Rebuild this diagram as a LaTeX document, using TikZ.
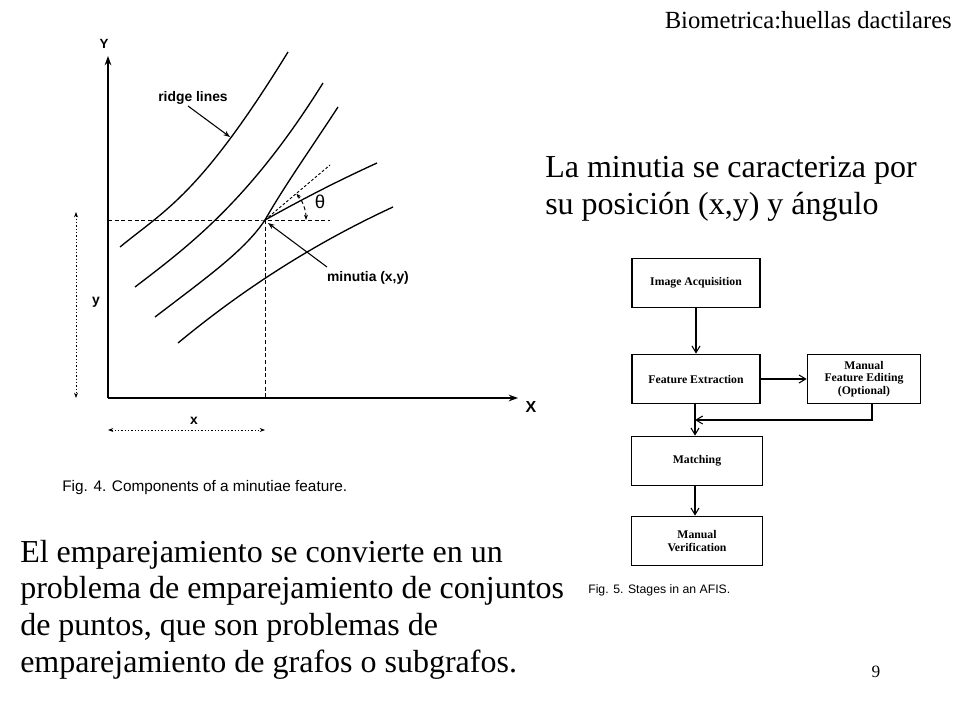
\documentclass[tikz,border=0pt]{standalone}
\usepackage{fontspec}
\setmainfont{Liberation Serif}
\newfontfamily\lsans{Liberation Sans}
\usetikzlibrary{arrows.meta}
\begin{document}
\begin{tikzpicture}[x=0.75pt,y=-0.75pt,
  big/.style={font=\fontsize{24}{28}\selectfont,anchor=west,inner sep=0},
  lbl/.style={font=\lsans\bfseries\fontsize{10.4}{12}\selectfont,inner sep=1pt},
  ridge/.style={line width=1pt},
  dsh/.style={dashed,dash pattern=on 3pt off 2pt,line width=0.7pt},
  dot/.style={dash pattern=on 1pt off 1.5pt,line width=0.7pt},
  fbox/.style={draw,line width=1pt,minimum width=96pt,minimum height=37pt,align=center,font=\bfseries\fontsize{8.8}{9.5}\selectfont},
  farr/.style={line width=0.8pt,-{Straight Barb[length=5pt,width=6pt]}}]
\useasboundingbox (0,0) rectangle (960,720);
\fill[white] (0,0) rectangle (960,720);
% header
\node[font=\fontsize{18.5}{20}\selectfont,anchor=east,inner sep=0] (hdr) at (952,20) {Biometrica:huellas dactilares};
\node[big] (t1) at (545,170) {La minutia se caracteriza por};
\node[big] (t2) at (545,207) {su posición (x,y) y ángulo};
\node[big] (b1) at (20,555) {El emparejamiento se convierte en un};
\node[big] (b2) at (20,591) {problema de emparejamiento de conjuntos};
\node[big] (b3) at (20,628) {de puntos, que son problemas de};
\node[big] (b4) at (20,665) {emparejamiento de grafos o subgrafos.};
\node[font=\fontsize{13}{14}\selectfont,inner sep=0] (pg) at (876,672) {9};
% minutia figure
\coordinate (o) at (108,398);
\coordinate (ytop) at (108,56);
\coordinate (xend) at (518,398);
\coordinate (m) at (265,220);
\draw[line width=1.1pt,-{Stealth[length=7pt,width=5pt]}] (o) -- (ytop);
\draw[line width=1.1pt,-{Stealth[length=7pt,width=5pt]}] (o) -- (xend);
\node[lbl,font=\lsans\bfseries\fontsize{10}{11}\selectfont] (Y) at (104,44) {Y};
\node[lbl,font=\lsans\bfseries\fontsize{12}{13}\selectfont] (X) at (531,407) {X};
\draw[ridge] (120,247) .. controls (165,210) and (200,195) .. (288,52);
\draw[ridge] (135,287) .. controls (190,245) and (250,200) .. (323,83);
\draw[ridge] (155,317) .. controls (210,275) and (245,250) .. (m) .. controls (285,185) and (310,150) .. (338,107);
\draw[ridge] (m) .. controls (310,195) and (340,180) .. (377,163);
\draw[ridge] (178,343) .. controls (230,300) and (300,250) .. (393,207);
\draw[dsh] (108,220) -- (m) -- (330,220);
\draw[dsh] (m) -- (265,398);
\draw[dsh,dash pattern=on 2pt off 1.5pt] (m) -- (330,165);
\draw[dsh,{Stealth[length=4pt]}-{Stealth[length=4pt]}] (306,220) arc[start angle=0,end angle=-40,radius=41];
\node[font=\lsans\fontsize{14}{15}\selectfont] (th) at (320,202) {θ};
\node[lbl] (rl) at (193,98) {ridge lines};
\draw[line width=0.8pt,-{Stealth[length=5pt]}] (188,106) -- (230,137);
\node[lbl] (ml) at (368,278) {minutia (x,y)};
\draw[line width=0.8pt,-{Stealth[length=5pt]}] (327,267) -- (268,223);
\node[lbl] (yl) at (96,302) {y};
\node[lbl] (xl) at (194,421) {x};
\draw[dot,{Stealth[length=4pt]}-{Stealth[length=4pt]}] (76,212) -- (76,398);
\draw[dot,{Stealth[length=4pt]}-{Stealth[length=4pt]}] (108,430) -- (265,430);
\node[font=\lsans\fontsize{11.5}{12}\selectfont,anchor=west,inner sep=0] (cap4) at (62,488) {Fig. 4. Components of a minutiae feature.};
% AFIS flowchart
\node[fbox] (ia) at (696,283) {Image Acquisition};
\node[fbox] (fe) at (696,379) {Feature Extraction};
\node[fbox,minimum width=85pt] (mf) at (864,379) {Manual\\Feature Editing\\(Optional)};
\node[fbox,minimum width=98pt] (ma) at (697,461) {Matching};
\node[fbox,minimum width=98pt] (mv) at (697,541) {Manual\\Verification};
\coordinate (jn) at (695,420);
\draw[farr] (ia) -- (fe);
\draw[farr] (fe) -- (mf);
\draw[farr] (fe.south -| jn) -- (ma.north -| jn);
\draw[farr] (mf.south -| 872,0) |- (jn);
\draw[farr] (ma.south -| jn) -- (mv.north -| jn);
\node[font=\lsans\fontsize{9.2}{10}\selectfont,anchor=west,inner sep=0] (cap5) at (588,590) {Fig. 5. Stages in an AFIS.};
\end{tikzpicture}
\end{document}
